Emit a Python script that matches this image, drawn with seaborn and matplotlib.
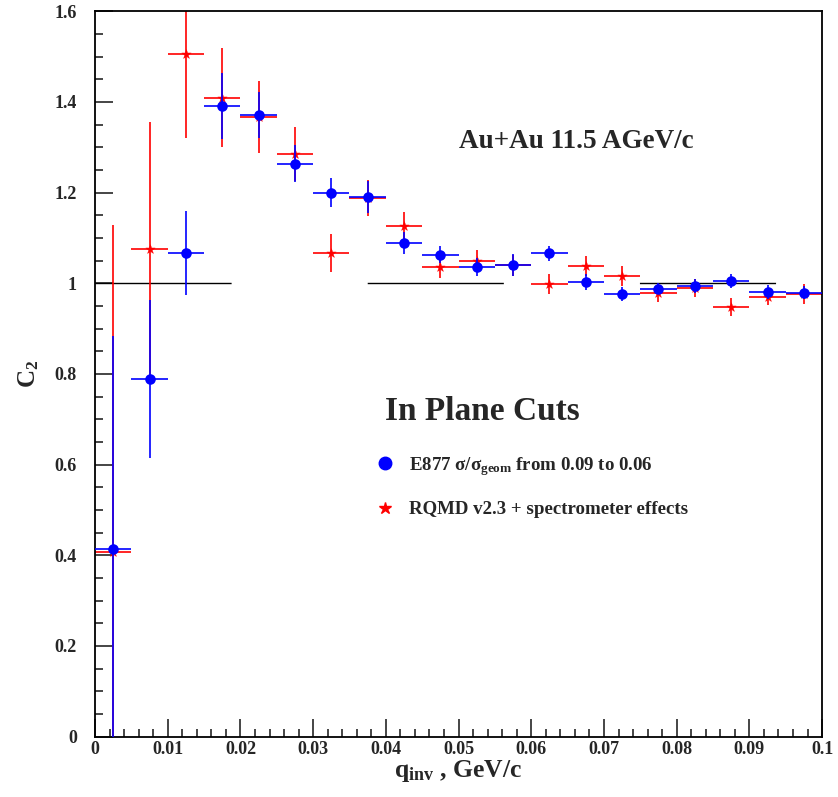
import matplotlib
matplotlib.use('Agg')
import matplotlib.pyplot as plt
from matplotlib.lines import Line2D
from matplotlib.ticker import MultipleLocator, FormatStrFormatter
import numpy as np
import pandas as pd
import seaborn as sns

# bin centres of q_inv (GeV/c), bin width 0.005
q_inv = [0.0025, 0.0075, 0.0125, 0.0175, 0.0225, 0.0275, 0.0325, 0.0375, 0.0425, 0.0475,
         0.0525, 0.0575, 0.0625, 0.0675, 0.0725, 0.0775, 0.0825, 0.0875, 0.0925, 0.0975]
half_bin = 0.0025

# E877 data
e877_c2 = [0.413, 0.789, 1.067, 1.390, 1.371, 1.264, 1.199, 1.190, 1.089, 1.063,
           1.035, 1.040, 1.066, 1.003, 0.976, 0.988, 0.994, 1.005, 0.981, 0.979]
e877_err = [0.470, 0.175, 0.093, 0.073, 0.051, 0.040, 0.032, 0.035, 0.024, 0.019,
            0.020, 0.024, 0.017, 0.017, 0.015, 0.012, 0.015, 0.015, 0.015, 0.014]

# RQMD simulation
rqmd_c2 = [0.408, 1.075, 1.505, 1.409, 1.367, 1.285, 1.066, 1.188, 1.126, 1.036,
           1.049, 1.040, 0.998, 1.038, 1.016, 0.979, 0.990, 0.948, 0.970, 0.977]
rqmd_err = [0.720, 0.280, 0.185, 0.109, 0.080, 0.060, 0.042, 0.040, 0.030, 0.025,
            0.024, 0.023, 0.022, 0.022, 0.022, 0.020, 0.020, 0.020, 0.019, 0.022]

df = pd.DataFrame({'q': q_inv, 'e877': e877_c2, 'rqmd': rqmd_c2})

sns.set_style('ticks')
plt.rcParams['font.family'] = ['Liberation Serif', 'DejaVu Serif']
plt.rcParams['font.weight'] = 'bold'
plt.rcParams['mathtext.fontset'] = 'custom'
plt.rcParams['mathtext.rm'] = 'Liberation Serif:bold'
plt.rcParams['mathtext.it'] = 'Liberation Serif:bold'
plt.rcParams['mathtext.bf'] = 'Liberation Serif:bold'

fig = plt.figure(figsize=(8.38, 7.97), dpi=100)
ax = fig.add_axes([0.1134, 0.0757, 0.8676, 0.9103])

# dashed line at C2 = 1
ax.axhline(1.0, color='black', lw=1, ls=(0, (98, 98)), zorder=1)

ax.errorbar(df['q'], df['rqmd'], xerr=half_bin, yerr=rqmd_err, fmt='none',
            ecolor='red', elinewidth=1.2, capsize=0, zorder=2)
sns.scatterplot(data=df, x='q', y='rqmd', marker='*', s=50, color='red',
                edgecolor='red', linewidth=0.3, ax=ax, zorder=3, legend=False)
ax.errorbar(df['q'], df['e877'], xerr=half_bin, yerr=e877_err, fmt='none',
            ecolor='blue', elinewidth=1.2, capsize=0, zorder=4)
sns.scatterplot(data=df, x='q', y='e877', marker='o', s=58, color='blue',
                edgecolor='blue', linewidth=0, ax=ax, zorder=5, legend=False)

ax.set_xlim(0, 0.1)
ax.set_ylim(0, 1.6)
ax.xaxis.set_major_locator(MultipleLocator(0.01))
ax.xaxis.set_minor_locator(MultipleLocator(0.002))
ax.yaxis.set_major_locator(MultipleLocator(0.2))
ax.yaxis.set_minor_locator(MultipleLocator(0.05))
ax.xaxis.set_major_formatter(FormatStrFormatter('%g'))
ax.yaxis.set_major_formatter(FormatStrFormatter('%g'))
ax.tick_params(which='both', direction='in', top=False, right=False, width=1.2)
ax.tick_params(which='major', length=13, labelsize=13)
ax.tick_params(which='minor', length=6)
ax.tick_params(axis='y', which='major', pad=13)
ax.tick_params(axis='x', which='major', pad=3)
for lab in ax.get_xticklabels() + ax.get_yticklabels():
    lab.set_fontweight('bold')
for sp in ax.spines.values():
    sp.set_linewidth(1.3)
    sp.set_color('black')

ax.set_xlabel(r'q$_{\mathbf{inv}}$ , GeV/c', fontsize=18.5, fontweight='bold')
ax.xaxis.set_label_coords(0.5, -0.029)
ax.set_ylabel(r'C$_{\mathbf{2}}$', fontsize=18, fontweight='bold')
ax.yaxis.set_label_coords(-0.075, 0.5)

ax.text(0.05, 1.299, 'Au+Au 11.5 AGeV/c', fontsize=19.5, fontweight='bold',
        ha='left', va='baseline')
ax.text(0.0399, 0.698, 'In Plane Cuts', fontsize=24, fontweight='bold',
        ha='left', va='baseline')

handles = [
    Line2D([], [], marker='o', color='blue', ls='none', markersize=9),
    Line2D([], [], marker='*', color='red', ls='none', markersize=9),
]
labels = [r'E877 $\sigma/\sigma_{geom}$ from 0.09 to 0.06',
          'RQMD v2.3 + spectrometer effects']
leg = ax.legend(handles, labels, loc='upper left', bbox_to_anchor=(0.376, 0.399),
                frameon=False, fontsize=13.6, handlelength=1.0, handletextpad=0.76,
                labelspacing=1.25, borderaxespad=0)
for t in leg.get_texts():
    t.set_fontweight('bold')

fig.savefig('out.png', dpi=100)
